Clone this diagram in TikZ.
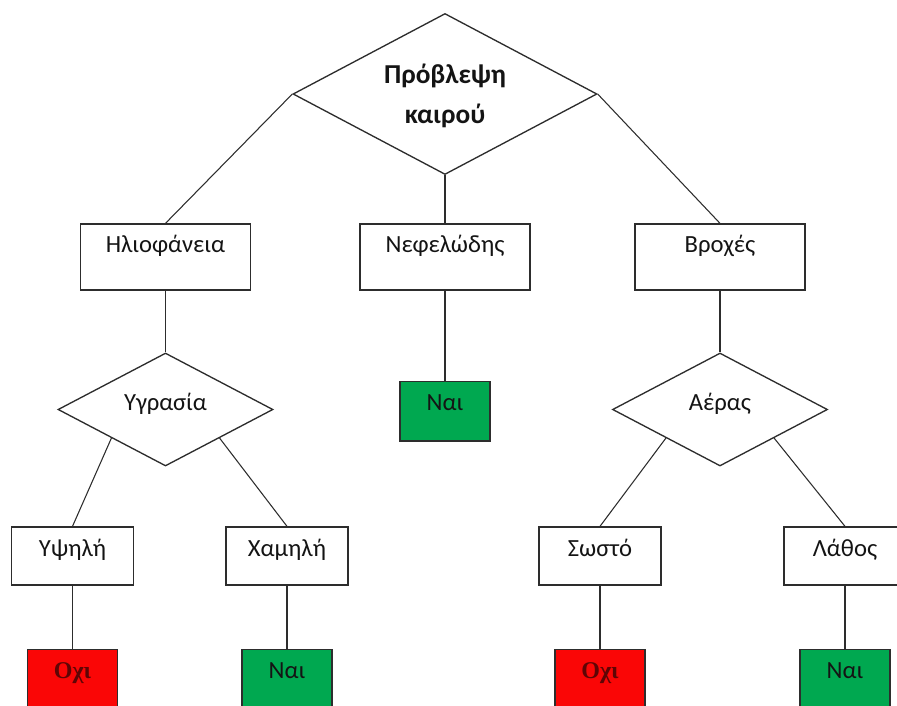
\documentclass[tikz,border=0pt]{standalone}
\usepackage{fontspec}
\setmainfont{Carlito}
\newfontfamily\serifgr{Liberation Serif}
\usepackage{xcolor}
\usetikzlibrary{shapes.geometric}
\definecolor{yes}{RGB}{0,168,80}
\definecolor{no}{RGB}{250,6,6}
\definecolor{edge}{RGB}{45,45,45}
\definecolor{ink}{RGB}{20,20,20}
\definecolor{noink}{RGB}{95,5,5}
\tikzstyle{decision}=[diamond, aspect=2, draw=edge, line width=1pt, inner sep=0pt, text height=13pt, text depth=11pt, minimum width=161.25pt, minimum height=84.75pt]
\tikzstyle{attr}=[rectangle, draw=edge, line width=1pt, inner sep=0pt, text height=21.75pt, text depth=27.75pt, minimum width=127.5pt]
\tikzstyle{value}=[rectangle, draw=edge, line width=1pt, inner sep=0pt, text height=21.75pt, text depth=21.75pt, minimum width=91.5pt]
\tikzstyle{leaf}=[rectangle, draw=edge, line width=1pt, inner sep=0pt, text height=21.75pt, text depth=23pt, minimum width=67.5pt]
\tikzstyle{yes}=[fill=yes]
\tikzstyle{no}=[fill=no, text=noink, font=\serifgr\bfseries\fontsize{18pt}{22pt}\selectfont]
\tikzstyle{link}=[draw=edge, line width=0.8pt]

\begin{document}
\begin{tikzpicture}[x=0.75pt, y=-0.75pt, text=ink, font=\fontsize{18.5pt}{22pt}\selectfont]
  \useasboundingbox (0,0) rectangle (897,706);
  %% Root
  \draw (445,94) node[decision, minimum width=228pt, minimum height=120.75pt, text height=50pt, text depth=6pt, align=center, font=\bfseries\fontsize{20.5pt}{30pt}\selectfont] (forecast) {Πρόβλεψη\\καιρού};

  \draw (165.5,257) node[attr] (sun) {Ηλιοφάνεια};
  \draw (445,257) node[attr] (cloud) {Νεφελώδης};
  \draw (720,257) node[attr] (rain) {Βροχές};

  \draw (165.5,409.5) node[decision] (humid) {Υγρασία};
  \draw (445,411) node[leaf,yes] (yesCloud) {Ναι};
  \draw (720,409.5) node[decision] (wind) {Αέρας};

  \draw (72.5,556) node[value] (high) {Υψηλή};
  \draw (287,556) node[value] (low) {Χαμηλή};
  \draw (600,556) node[value] (correct) {Σωστό};
  \draw (845,556) node[value] (wrong) {Λάθος};

  \draw (72.5,679) node[leaf,no] (noHigh) {Οχι};
  \draw (287,679) node[leaf,yes] (yesLow) {Ναι};
  \draw (600,679) node[leaf,no] (noCorrect) {Οχι};
  \draw (845,679) node[leaf,yes] (yesWrong) {Ναι};

  %% Branches
  \draw[link] (forecast.west) -- (sun.north);
  \draw[link] (forecast.south) -- (cloud.north);
  \draw[link] (forecast.east) -- (rain.north);

  \draw[link] (sun.south) -- (humid.north);
  \draw[link] (cloud.south) -- (yesCloud.north);
  \draw[link] (rain.south) -- (wind.north);

  \draw[link] (humid.south west) -- (high.north);
  \draw[link] (humid.south east) -- (low.north);
  \draw[link] (wind.south west) -- (correct.north);
  \draw[link] (wind.south east) -- (wrong.north);

  \draw[link] (high.south) -- (noHigh.north);
  \draw[link] (low.south) -- (yesLow.north);
  \draw[link] (correct.south) -- (noCorrect.north);
  \draw[link] (wrong.south) -- (yesWrong.north);
\end{tikzpicture}
\end{document}
